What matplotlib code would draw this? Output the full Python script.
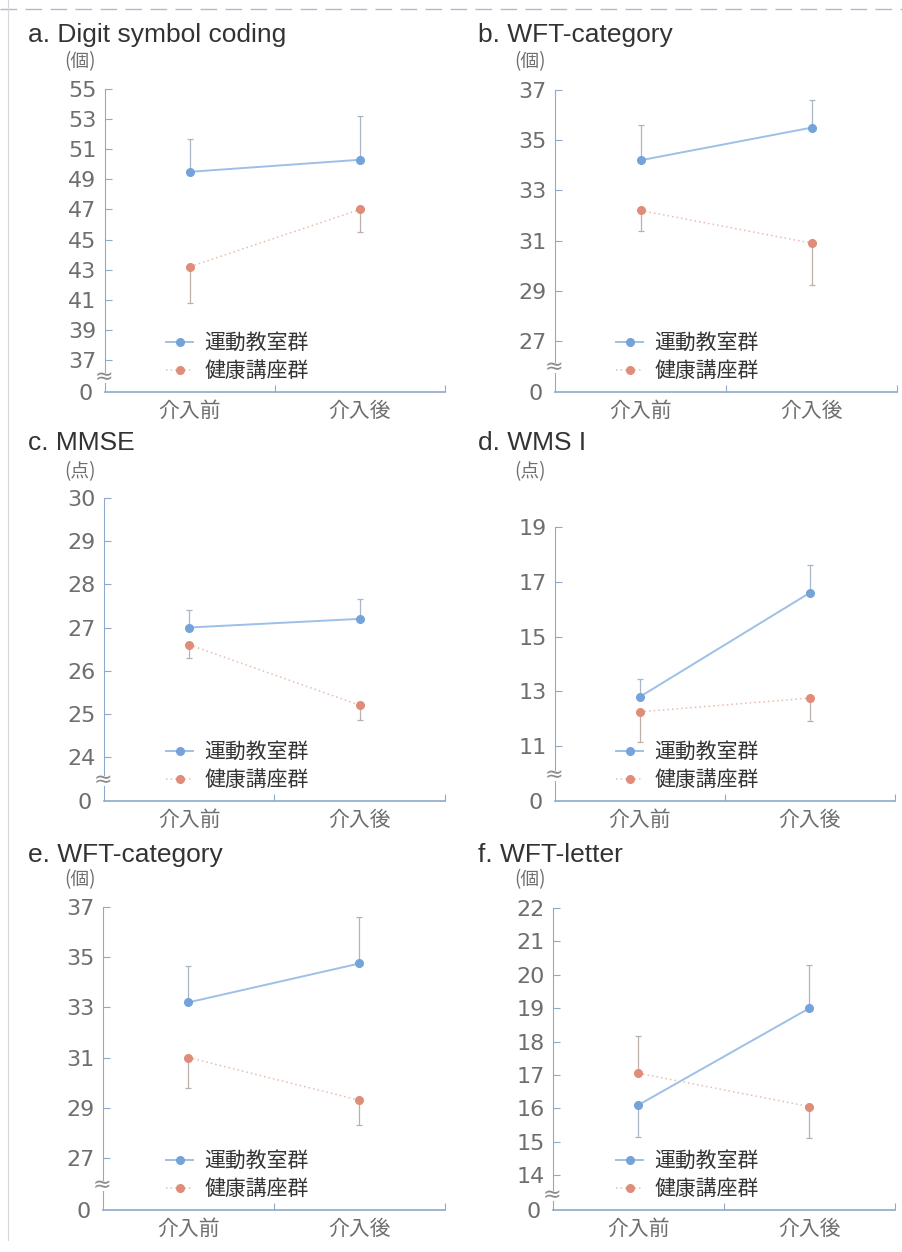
import matplotlib.pyplot as plt
from matplotlib.lines import Line2D

plt.rcParams['font.family'] = ['Noto Sans CJK JP', 'DejaVu Sans']

# x categories
phases = ["介入前", "介入後"]
groups = ["運動教室群", "健康講座群"]

# a. Digit symbol coding
a_ex = [49.5, 50.3]
a_ex_err = [[0, 0], [2.2, 2.9]]
a_hl = [43.2, 47.0]
a_hl_err = [[2.4, 1.5], [0, 0]]
a_ticks = [37, 39, 41, 43, 45, 47, 49, 51, 53, 55]

# b. WFT-category
b_ex = [34.2, 35.5]
b_ex_err = [[0, 0], [1.4, 1.1]]
b_hl = [32.2, 30.9]
b_hl_err = [[0.8, 1.65], [0, 0]]
b_ticks = [27, 29, 31, 33, 35, 37]

# c. MMSE
c_ex = [27.0, 27.2]
c_ex_err = [[0, 0], [0.4, 0.45]]
c_hl = [26.6, 25.2]
c_hl_err = [[0.3, 0.35], [0, 0]]
c_ticks = [24, 25, 26, 27, 28, 29, 30]

# d. WMS I
d_ex = [12.8, 16.6]
d_ex_err = [[0, 0], [0.65, 1.0]]
d_hl = [12.25, 12.75]
d_hl_err = [[1.1, 0.85], [0, 0]]
d_ticks = [11, 13, 15, 17, 19]

# e. WFT-category
e_ex = [33.2, 34.75]
e_ex_err = [[0, 0], [1.45, 1.85]]
e_hl = [31.0, 29.3]
e_hl_err = [[1.2, 1.0], [0, 0]]
e_ticks = [27, 29, 31, 33, 35, 37]

# f. WFT-letter
f_ex = [16.1, 19.0]
f_ex_err = [[0.95, 0], [0, 1.3]]
f_hl = [17.05, 16.05]
f_hl_err = [[0, 0.95], [1.1, 0]]
f_ticks = [14, 15, 16, 17, 18, 19, 20, 21, 22]

titles = ["a. Digit symbol coding", "b. WFT-category", "c. MMSE",
          "d. WMS I", "e. WFT-category", "f. WFT-letter"]
units = ["(個)", "(個)", "(点)", "(点)", "(個)", "(個)"]

BLUE = "#74a3da"
BLUE_LINE = "#9cc0e6"
ORANGE = "#e08c7a"
ORANGE_LINE = "#e9bcae"
AXIS = "#8ea9ca"
TICKTXT = "#6e6e6e"

W, H = 903, 1252
fig = plt.figure(figsize=(W / 100, H / 100), dpi=100)
fig.patch.set_facecolor("white")


def fx(px):
    return px / W


def fy(py):
    return 1 - py / H


# pixel layout of each panel: x0, x1, y of top tick, y of lowest tick, break, zero line
layout = [
    (105, 445, 89, 360, 377, 392),
    (555, 897, 90, 341, 367, 392),
    (104, 445, 498, 757, 780, 801),
    (555, 895, 527, 746, 775, 801),
    (103, 445, 907, 1158, 1185, 1210),
    (553, 895, 908, 1175, 1195, 1210),
]
legend_y = [357, 357, 766, 766, 1175, 1175]

panels = [
    (a_ex, a_ex_err, a_hl, a_hl_err, a_ticks),
    (b_ex, b_ex_err, b_hl, b_hl_err, b_ticks),
    (c_ex, c_ex_err, c_hl, c_hl_err, c_ticks),
    (d_ex, d_ex_err, d_hl, d_hl_err, d_ticks),
    (e_ex, e_ex_err, e_hl, e_hl_err, e_ticks),
    (f_ex, f_ex_err, f_hl, f_hl_err, f_ticks),
]

for i, (ex, ex_err, hl, hl_err, ticks) in enumerate(panels):
    x0, x1, y_top, y_low, y_brk, y_zero = layout[i]
    lo, hi = ticks[0], ticks[-1]
    ppu = (y_low - y_top) / (hi - lo)
    main_bot = y_brk - 5
    ext = (main_bot - y_low) / ppu

    ax = fig.add_axes([fx(x0), fy(main_bot), fx(x1 - x0), (main_bot - y_top) / H])
    ax.set_ylim(lo - ext, hi)
    ax.set_xlim(-0.5, 1.5)
    for s in ["top", "right", "bottom"]:
        ax.spines[s].set_visible(False)
    ax.spines["left"].set_color(AXIS)
    ax.spines["left"].set_linewidth(0.8)
    ax.set_xticks([])
    ax.set_yticks(ticks)
    ax.tick_params(axis="y", direction="in", length=5, width=0.8, color=AXIS,
                   labelsize=16, labelcolor=TICKTXT, pad=6)
    for lab in ax.get_yticklabels():
        lab.set_family(["DejaVu Sans"])

    x = [0, 1]
    ax.errorbar(x, ex, yerr=ex_err, fmt="none", ecolor="#a8b6c6",
                elinewidth=0.9, capsize=2.5, capthick=0.9, zorder=2)
    ax.errorbar(x, hl, yerr=hl_err, fmt="none", ecolor="#bdb0aa",
                elinewidth=0.9, capsize=2.5, capthick=0.9, zorder=2)
    ax.plot(x, ex, color=BLUE_LINE, lw=1.4, marker="o", ms=5.5,
            mfc=BLUE, mec=BLUE, zorder=3)
    ax.plot(x, hl, color=ORANGE_LINE, lw=1.1, ls=(0, (1, 2)), marker="o",
            ms=5.5, mfc=ORANGE, mec=ORANGE, zorder=3)

    # lower strip that carries the zero and the x axis
    strip_top = y_brk + 6
    axb = fig.add_axes([fx(x0), fy(y_zero), fx(x1 - x0), (y_zero - strip_top) / H])
    axb.set_xlim(-0.5, 1.5)
    axb.set_ylim(0, 1)
    axb.patch.set_alpha(0)
    for s in ["top", "right"]:
        axb.spines[s].set_visible(False)
    axb.spines["left"].set_color(AXIS)
    axb.spines["left"].set_linewidth(0.8)
    axb.spines["bottom"].set_color(AXIS)
    axb.spines["bottom"].set_linewidth(1.2)
    axb.set_yticks([0])
    axb.set_yticklabels(["0"], family=["DejaVu Sans"])
    axb.tick_params(axis="y", length=0, labelsize=16, labelcolor=TICKTXT, pad=9)
    axb.set_xticks([0, 1])
    axb.set_xticklabels(phases)
    axb.set_xticks([0.5, 1.5], minor=True)
    axb.tick_params(axis="x", which="major", length=0, labelsize=15,
                    labelcolor=TICKTXT, pad=6)
    axb.tick_params(axis="x", which="minor", direction="in", length=5,
                    width=0.8, color=AXIS)

    # break mark on the y axis
    fig.text(fx(x0 - 1), fy(y_brk), "≈", ha="center", va="center",
             fontsize=16, color="#8a8a8a", family=["DejaVu Sans"])

    # panel title and unit
    tx = 28 if i % 2 == 0 else 478
    ty = [35, 35, 443, 443, 855, 855][i]
    fig.text(fx(tx), fy(ty), titles[i], ha="left", va="center", fontsize=19,
             color="#333333", family=["Liberation Sans", "Noto Sans CJK JP"])
    ux = 80 if i % 2 == 0 else 530
    uy = [62, 62, 472, 472, 880, 880][i]
    fig.text(fx(ux), fy(uy), units[i], ha="center", va="center", fontsize=13.5,
             color=TICKTXT)

    handles = [
        Line2D([], [], color=BLUE_LINE, lw=1.4, marker="o", ms=5.5,
               mfc=BLUE, mec=BLUE),
        Line2D([], [], color=ORANGE_LINE, lw=1.1, ls=(0, (1, 2)), marker="o",
               ms=5.5, mfc=ORANGE, mec=ORANGE),
    ]
    lx = 166 if i % 2 == 0 else 616
    ax.legend(handles, groups, loc="center left",
              bbox_to_anchor=(fx(lx), fy(legend_y[i])), bbox_transform=fig.transFigure,
              frameon=False, fontsize=15, handlelength=1.3, handletextpad=0.55,
              labelspacing=0.3, borderpad=0, borderaxespad=0,
              labelcolor="#333333")

# scan edge lines
fig.add_artist(Line2D([fx(0), fx(W)], [fy(9), fy(9)], color="#a9bcd6", lw=1.0,
                      ls=(0, (12, 6))))
fig.add_artist(Line2D([fx(8), fx(8)], [fy(0), fy(1240)], color="#d8d8d8", lw=0.8))

fig.savefig("out.png", dpi=100)
